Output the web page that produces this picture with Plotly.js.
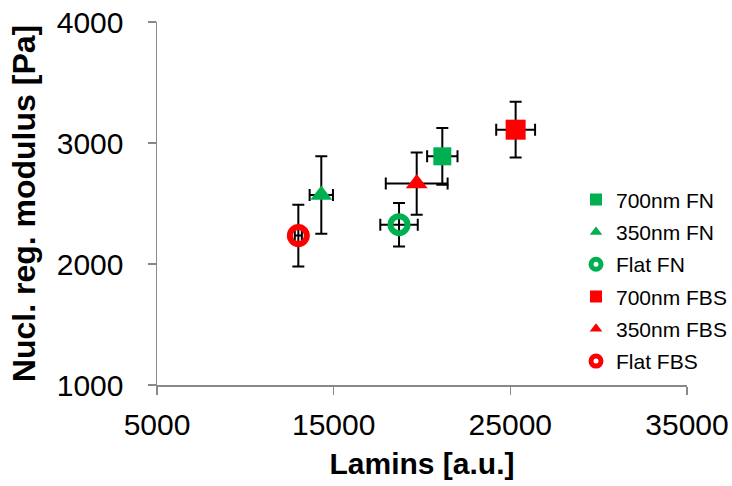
<!DOCTYPE html>
<html>
<head>
<meta charset="utf-8">
<script src="https://cdn.plot.ly/plotly-3.0.1.min.js"></script>
<style>html,body{margin:0;padding:0;background:#fff;}#chart{width:732px;height:486px;}</style>
</head>
<body>
<div id="chart"></div>
<script>
const seriesNames = ["700nm FN", "350nm FN", "Flat FN", "700nm FBS", "350nm FBS", "Flat FBS"];
const laminsX = [21150, 14300, 18700, 25300, 19700, 13000];
const modulusY = [2890, 2570, 2325, 3110, 2665, 2235];
const laminsErr = [860, 660, 1060, 1100, 1750, 200];
const modulusErr = [235, 320, 180, 230, 257, 255];

const colors = ["#00B050", "#00B050", "#00B050", "#FF0000", "#FF0000", "#FF0000"];
const symbols = ["square", "triangle-up", "circle-open", "square", "triangle-up", "circle-open"];
const sizes = [18, 19, 17, 20, 19, 17];
const legendSizes = [12, 11, 10, 12, 11, 10];

const dataTraces = seriesNames.map((name, i) => ({
  type: "scatter",
  mode: "markers",
  name: name,
  showlegend: false,
  x: [laminsX[i]],
  y: [modulusY[i]],
  error_x: {type: "constant", value: laminsErr[i], color: "#000", thickness: 2, width: 6},
  error_y: {type: "constant", value: modulusErr[i], color: "#000", thickness: 2, width: 6},
  marker: {
    color: colors[i],
    symbol: symbols[i],
    size: sizes[i],
    line: {color: colors[i], width: symbols[i] === "circle-open" ? 6 : 0}
  }
}));

const legendTraces = seriesNames.map((name, i) => ({
  type: "scatter",
  mode: "markers",
  name: name,
  legendgroup: "g" + i,
  x: [null],
  y: [null],
  hoverinfo: "skip",
  marker: {
    color: colors[i],
    symbol: symbols[i],
    size: legendSizes[i],
    line: {color: colors[i], width: symbols[i] === "circle-open" ? 5 : 0}
  }
}));

const layout = {
  width: 732, height: 486,
  margin: {l: 157, r: 45, t: 22, b: 101, autoexpand: false},
  paper_bgcolor: "#fff", plot_bgcolor: "#fff",
  font: {family: "Liberation Sans, Arial, sans-serif", color: "#000"},
  showlegend: true,
  legend: {
    x: 0, y: 0.288, xanchor: "left", yanchor: "middle",
    font: {size: 21, color: "#000"},
    traceorder: "grouped",
    tracegroupgap: 2,
    itemsizing: "trace",
    itemwidth: 30,
    bgcolor: "rgba(0,0,0,0)"
  },
  xaxis: {
    range: [5000, 35000],
    tickvals: [5000, 15000, 25000, 35000],
    ticktext: ["5000", "15000", "25000", "35000"],
    showgrid: false, zeroline: false,
    showline: true, linecolor: "#898989", linewidth: 1.5,
    ticks: "outside", ticklen: 8, tickcolor: "#898989", tickwidth: 1.5,
    tickfont: {size: 30, color: "#000"},
    ticklabelstandoff: 4,
    automargin: false,
    title: {text: "<b>Lamins [a.u.]</b>", font: {size: 30, color: "#000"}, standoff: 13}
  },
  yaxis: {
    range: [1000, 4000],
    tickvals: [1000, 2000, 3000, 4000],
    showgrid: false, zeroline: false,
    showline: true, linecolor: "#898989", linewidth: 1.5,
    ticks: "outside", ticklen: 8, tickcolor: "#898989", tickwidth: 1.5,
    tickfont: {size: 30, color: "#000"},
    ticklabelstandoff: 18,
    automargin: false,
    title: {text: "<b>Nucl. reg. modulus [Pa]</b>", font: {size: 32, color: "#000"}, standoff: 11}
  }
};
layout.legend.x = (576 - 157) / (732 - 157 - 45);

Plotly.newPlot("chart", dataTraces.concat(legendTraces), layout, {displayModeBar: false, staticPlot: true});
</script>
</body>
</html>
